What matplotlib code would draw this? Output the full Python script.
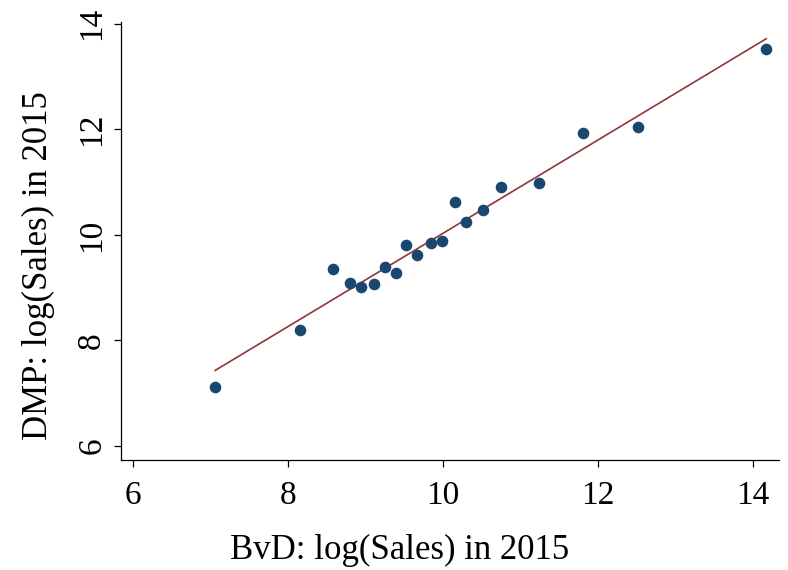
import numpy as np
import matplotlib
matplotlib.use("Agg")
import matplotlib.pyplot as plt

# BvD vs DMP log(Sales) in 2015
bvd = [7.06, 8.16, 8.58, 8.80, 8.94, 9.11, 9.25, 9.39, 9.52, 9.67,
       9.84, 9.99, 10.15, 10.30, 10.51, 10.75, 11.24, 11.80, 12.51, 14.17]
dmp = [7.11, 8.19, 9.36, 9.08, 9.01, 9.07, 9.40, 9.28, 9.80, 9.61,
       9.85, 9.88, 10.63, 10.25, 10.47, 10.90, 10.99, 11.93, 12.05, 13.53]
ticks = [6, 8, 10, 12, 14]

plt.rcParams['font.family'] = ['Liberation Serif', 'DejaVu Serif']

fig = plt.figure(figsize=(7.88, 5.70), dpi=100)
ax = fig.add_axes([0.1536, 0.1935, 0.835, 0.7685])

x = np.array(bvd)
y = np.array(dmp)
slope, intercept = np.polyfit(x, y, 1)
xs = np.array([x.min(), x.max()])

ax.scatter(x, y, s=70, color='#1a476f', zorder=3, linewidths=0)
ax.plot(xs, intercept + slope * xs, color='#90353b', lw=1.2, zorder=2)

ax.set_xlim(5.845, 14.335)
ax.set_ylim(5.74, 14.04)
ax.set_xticks(ticks)
ax.set_yticks(ticks)
ax.set_xticklabels([str(t) for t in ticks], fontsize=24)
ax.set_yticklabels([str(t) for t in ticks], fontsize=24, rotation=90, va='center')

for side in ('top', 'right'):
    ax.spines[side].set_visible(False)
for side in ('left', 'bottom'):
    ax.spines[side].set_linewidth(0.9)
ax.tick_params(direction='out', length=5, width=0.9)
ax.tick_params(axis='x', pad=10)
ax.tick_params(axis='y', pad=5)

ax.set_xlabel('BvD: log(Sales) in 2015', fontsize=25)
ax.set_ylabel('DMP: log(Sales) in 2015', fontsize=25)
ax.xaxis.set_label_coords(0.424, -0.17)
ax.yaxis.set_label_coords(-0.1, 0.444)

fig.savefig('out.png', dpi=100)
